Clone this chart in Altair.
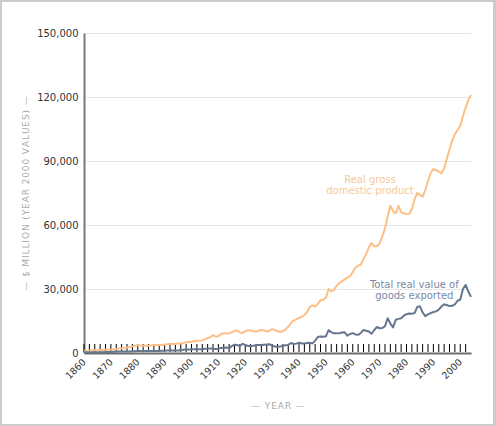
import altair as alt
import pandas as pd

# Annual series, $ million (year 2000 values)
years = list(range(1860, 2005))

gdp = [
    1000, 1050, 1150, 1250, 1300, 1300, 1400, 1450, 1500, 1550,          # 1860s
    1600, 1700, 1900, 2100, 2200, 2400, 2600, 2800, 3100, 3400,          # 1870s
    3700, 3500, 3400, 3500, 3400, 3500, 3600, 3700, 3700, 3800,          # 1880s
    4000, 4100, 4300, 4200, 4200, 4500, 4400, 4700, 5000, 5200,          # 1890s
    5300, 5600, 5700, 5800, 5900, 6400, 7100, 7400, 8400, 7700,          # 1900s
    7800, 8900, 9300, 9100, 9200, 9700, 10400, 10500, 9600, 9400,        # 1910s
    10200, 10700, 10600, 10200, 10000, 10400, 10800, 10600, 10100, 10500,  # 1920s
    11200, 10700, 10300, 9800, 10300, 11000, 12300, 14000, 15200, 15800,   # 1930s
    16500, 16900, 17800, 19200, 21600, 22300, 21800, 23000, 24700, 25000,  # 1940s
    25800, 30000, 29000, 29500, 31500, 32800, 33600, 34500, 35300, 36000,  # 1950s
    38000, 40000, 41000, 41500, 44000, 46500, 49500, 51500, 50000, 50000,  # 1960s
    51500, 54500, 58500, 64000, 69000, 66500, 65500, 69000, 66000, 65500,  # 1970s
    65300, 65200, 67500, 72000, 75000, 74200, 73300, 76500, 80500, 84500,  # 1980s
    86200, 85800, 85000, 84200, 86500, 91000, 95500, 99500, 102500, 104500,  # 1990s
    106500, 111000, 115000, 118500, 121000,                               # 2000s
]

exports = [
    300, 300, 250, 300, 300, 350, 400, 400, 450, 450,
    500, 550, 600, 650, 650, 650, 700, 750, 850, 850,
    950, 900, 850, 900, 900, 900, 950, 950, 950, 1050,
    1100, 1200, 1250, 1150, 1200, 1200, 1350, 1500, 1650, 1650,
    1750, 1750, 1700, 1800, 1750, 1950, 2050, 2150, 2000, 1900,
    2000, 2300, 2500, 2600, 2300, 3200, 3900, 3700, 3300, 4300,
    3800, 3300, 3300, 3400, 3700, 3700, 3800, 3900, 4000, 4100,
    3500, 3000, 2900, 3000, 3400, 3600, 3800, 4700, 4200, 4400,
    4800, 4500, 4400, 4700, 4800, 4500, 5800, 7500, 7700, 7600,
    7800, 10700, 9800, 9200, 9200, 9300, 9600, 9700, 8100, 8900,
    9300, 8700, 8500, 9400, 10800, 10400, 10100, 9000, 10800, 12200,
    11600, 11700, 12600, 16300, 13800, 12000, 15600, 16000, 16300, 17500,
    18200, 18500, 18400, 18700, 21600, 21900, 19000, 17300, 18100, 18700,
    19200, 19500, 20300, 21800, 22800, 22500, 22000, 22100, 22800, 24500,
    25000, 30000, 31900, 28800, 26300,
]

series_names = ["Real gross domestic product", "Total real value of goods exported"]
series_colors = ["#fdbf86", "#66768f"]

tick_years = list(range(1860, 2003, 2))
label_years = list(range(1860, 2001, 10))
value_ticks = [0, 30000, 60000, 90000, 120000, 150000]

gdp_note = {"year": 1966.4, "value": 81200, "text": "Real gross\ndomestic product"}
exp_note = {"year": 1982.9, "value": 32000, "text": "Total real value of\ngoods exported"}

FONT = "DejaVu Sans"
W, H = 387, 320
PAD_L, PAD_T, PAD_R, PAD_B = 84, 33, 25, 73


def spaced(s):
    return "\u200a".join(s)


df = pd.DataFrame({
    "year": years * 2,
    "value": gdp + exports,
    "series": [series_names[0]] * len(years) + [series_names[1]] * len(years),
})

x_scale = alt.Scale(domain=[1860, 2004], nice=False, zero=False)
y_scale = alt.Scale(domain=[0, 150000], nice=False)

x_axis = alt.Axis(
    values=label_years, format="d", labelAngle=-45, labelAlign="right",
    labelBaseline="middle", labelPadding=7, labelFontSize=9.5, labelColor="#333333",
    labelFont=FONT, labelOverlap=False, labelFlush=False, ticks=False, grid=False,
    domainColor="#6e6e6e", domainWidth=2,
    title=spaced("— YEAR —"), titleFont=FONT, titleFontSize=9, titleFontWeight="normal",
    titleColor="#aaaaaa", titleX=W / 2, titleY=52, titleAlign="center",
    titleBaseline="middle", titleAngle=0,
)
y_axis = alt.Axis(
    values=value_ticks, format=",.0f", labelFontSize=10, labelColor="#333333",
    labelFont=FONT, labelPadding=6, labelOverlap=False, labelFlush=False,
    ticks=False, grid=True, gridColor="#e6e6e6",
    gridWidth=1, domainColor="#7a7a7a", domainWidth=2,
    title=spaced("— $ MILLION (YEAR 2000 VALUES) —"), titleFont=FONT, titleFontSize=9,
    titleFontWeight="normal", titleColor="#aaaaaa", titleX=-59, titleY=H / 2,
    titleAlign="center", titleBaseline="middle", titleAngle=270,
)

# outer frame around the whole canvas
one = pd.DataFrame({"k": [0]})
frame = alt.Chart(one).mark_rect(fillOpacity=0, stroke="#cbcbcb", strokeWidth=2).encode(
    x=alt.value(1 - PAD_L), x2=alt.value(494 - PAD_L),
    y=alt.value(1 - PAD_T), y2=alt.value(425 - PAD_T),
)
frame_right = alt.Chart(one).mark_rule(stroke="#cbcbcb", strokeWidth=2).encode(
    x=alt.value(495 - PAD_L), y=alt.value(-PAD_T), y2=alt.value(426 - PAD_T),
)

# year ticks standing on the baseline
ticks = alt.Chart(pd.DataFrame({"year": tick_years})).mark_rule(
    color="#000000", strokeWidth=1
).encode(
    x=alt.X("year:Q", scale=x_scale, axis=x_axis),
    y=alt.value(H - 9), y2=alt.value(H - 1),
)

lines = alt.Chart(df).mark_line(strokeWidth=2, strokeJoin="round").encode(
    x=alt.X("year:Q", scale=x_scale, axis=x_axis),
    y=alt.Y("value:Q", scale=y_scale, axis=y_axis),
    color=alt.Color("series:N", scale=alt.Scale(domain=series_names, range=series_colors), legend=None),
    detail="series:N",
)

gdp_text = alt.Chart(pd.DataFrame([gdp_note])).mark_text(
    font=FONT, fontSize=10, color="#f6c79c", align="center", baseline="middle",
    lineBreak="\n", lineHeight=11,
).encode(
    x=alt.X("year:Q", scale=x_scale, axis=x_axis),
    y=alt.Y("value:Q", scale=y_scale, axis=y_axis),
    text="text:N",
)

exp_text = alt.Chart(pd.DataFrame([exp_note])).mark_text(
    font=FONT, fontSize=10, color="#7b8aa3", align="center", baseline="middle",
    lineBreak="\n", lineHeight=11,
).encode(
    x=alt.X("year:Q", scale=x_scale, axis=x_axis),
    y=alt.Y("value:Q", scale=y_scale, axis=y_axis),
    text="text:N",
)

chart = alt.layer(frame, frame_right, ticks, lines, gdp_text, exp_text).properties(
    width=W, height=H,
    padding={"left": PAD_L, "top": PAD_T, "right": PAD_R, "bottom": PAD_B},
    autosize=alt.AutoSizeParams(type="none"),
    background="#ffffff",
).configure_view(stroke=None)

chart.save("out.html", embed_options={"renderer": "svg", "actions": False})
